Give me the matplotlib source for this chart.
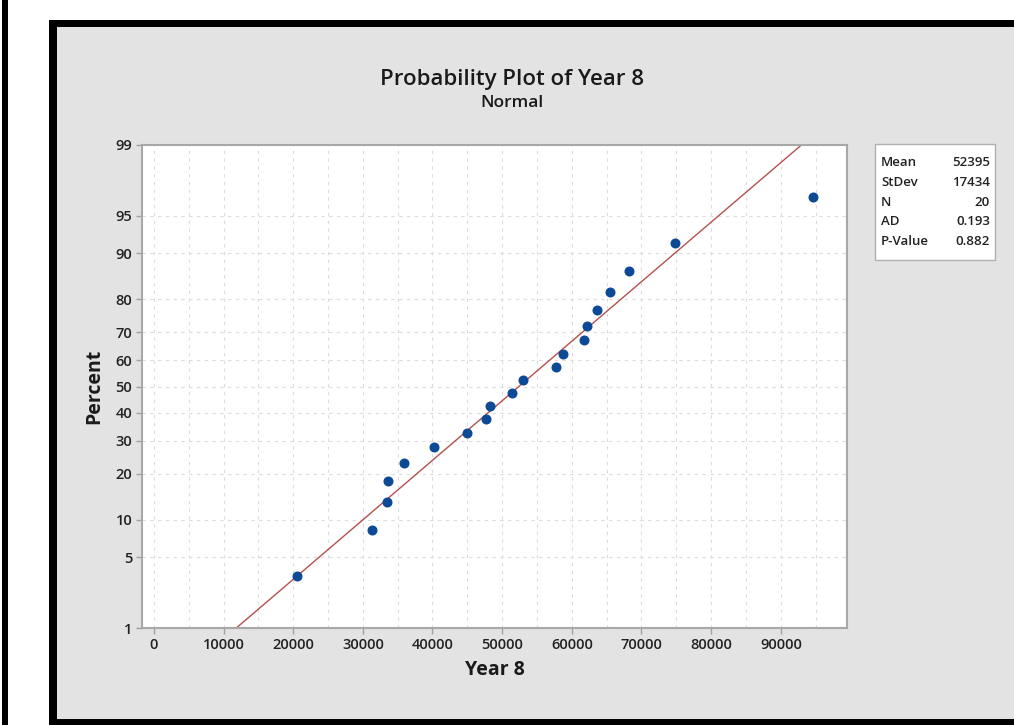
import matplotlib
matplotlib.use("Agg")
import matplotlib.pyplot as plt
from matplotlib.patches import Rectangle
from statistics import NormalDist

# values
year8 = [20550, 31300, 33450, 33600, 35900, 40200, 44950, 47700, 48250, 51450,
         53000, 57750, 58750, 61750, 62200, 63650, 65500, 68250, 74850, 94650]
percent = [3.4, 8.3, 13.2, 18.1, 23.0, 27.9, 32.8, 37.7, 42.6, 47.5,
           52.5, 57.4, 62.3, 67.2, 72.1, 77.0, 81.9, 86.8, 91.7, 96.6]
y_ticks = [1, 5, 10, 20, 30, 40, 50, 60, 70, 80, 90, 95, 99]
x_ticks = [0, 10000, 20000, 30000, 40000, 50000, 60000, 70000, 80000, 90000]
stat_names = ["Mean", "StDev", "N", "AD", "P-Value"]
stat_values = ["52395", "17434", "20", "0.193", "0.882"]
mean, stdev = 52395, 17434

W, H = 1014, 725
nd = NormalDist()


def z(p):
    return nd.inv_cdf(p / 100.0)


def fx(px):
    return px / W


def fy(py):
    return 1 - py / H


plt.rcParams['font.family'] = ['Open Sans', 'DejaVu Sans']
fig = plt.figure(figsize=(W / 100, H / 100), dpi=100)
fig.patch.set_facecolor('white')

# screenshot frame
bg = dict(transform=fig.transFigure, edgecolor='none', zorder=-5)
fig.patches.append(Rectangle((fx(2), 0), fx(6), 1, facecolor='black', **bg))
fig.patches.append(Rectangle((fx(49), 0), 1, fy(20), facecolor='black', **bg))
fig.patches.append(Rectangle((fx(57), fy(719)), 1, fy(27) - fy(719),
                             facecolor='#e3e3e3', **bg))

ax = fig.add_axes([fx(142), fy(628), fx(847) - fx(142), fy(145) - fy(628)])
ax.set_facecolor('white')

# grid
for gx in range(0, 95001, 5000):
    ax.axvline(gx, color='#dcdcdc', lw=0.8, ls=(0, (3, 4)), zorder=0)
for t in y_ticks[1:-1]:
    ax.axhline(z(t), color='#dcdcdc', lw=0.8, ls=(0, (3, 4)), zorder=0)

# fitted line
ax.plot([mean + stdev * z(1), mean + stdev * z(99)], [z(1), z(99)],
        color='#b5504c', lw=1.0, zorder=2)
ax.plot(year8, [z(p) for p in percent], 'o', color='#0d4a96', ms=6.2,
        mec='#0d4a96', zorder=3)

ax.set_xlim(-1700, 99500)
ax.set_ylim(z(1), z(99))
ax.set_xticks(x_ticks)
ax.set_xticklabels([str(v) for v in x_ticks])
ax.set_yticks([z(t) for t in y_ticks])
ax.set_yticklabels([str(t) for t in y_ticks])
ax.tick_params(axis='both', length=4, width=1, color='#a0a0a0',
               labelsize=10.5, labelcolor='#222222', pad=3)
for lab in ax.get_xticklabels() + ax.get_yticklabels():
    lab.set_fontweight('semibold')
for s in ax.spines.values():
    s.set_color('#a8a8a8')
    s.set_linewidth(1.5)

ax.set_xlabel('Year 8', fontsize=14, fontweight='bold', color='#1a1a1a',
              labelpad=6)
ax.set_ylabel('Percent', fontsize=14, fontweight='bold', color='#1a1a1a',
              labelpad=8)

fig.text(fx(512), fy(80), 'Probability Plot of Year 8', ha='center',
         va='center', fontsize=16, fontweight='semibold', color='#1a1a1a')
fig.text(fx(512), fy(103), 'Normal', ha='center', va='center',
         fontsize=12.5, fontweight='semibold', color='#1a1a1a')

# stats box
fig.patches.append(Rectangle((fx(875), fy(260)), fx(995) - fx(875),
                             fy(144) - fy(260), transform=fig.transFigure,
                             facecolor='white', edgecolor='#b0b0b0', lw=1))
for i, (name, val) in enumerate(zip(stat_names, stat_values)):
    ypos = fy(163 + i * 19.5)
    fig.text(fx(881), ypos, name, ha='left', va='center', fontsize=9.5,
             fontweight='semibold', color='#222222')
    fig.text(fx(990), ypos, val, ha='right', va='center', fontsize=9.5,
             fontweight='semibold', color='#222222')

fig.savefig('out.png', dpi=100)
